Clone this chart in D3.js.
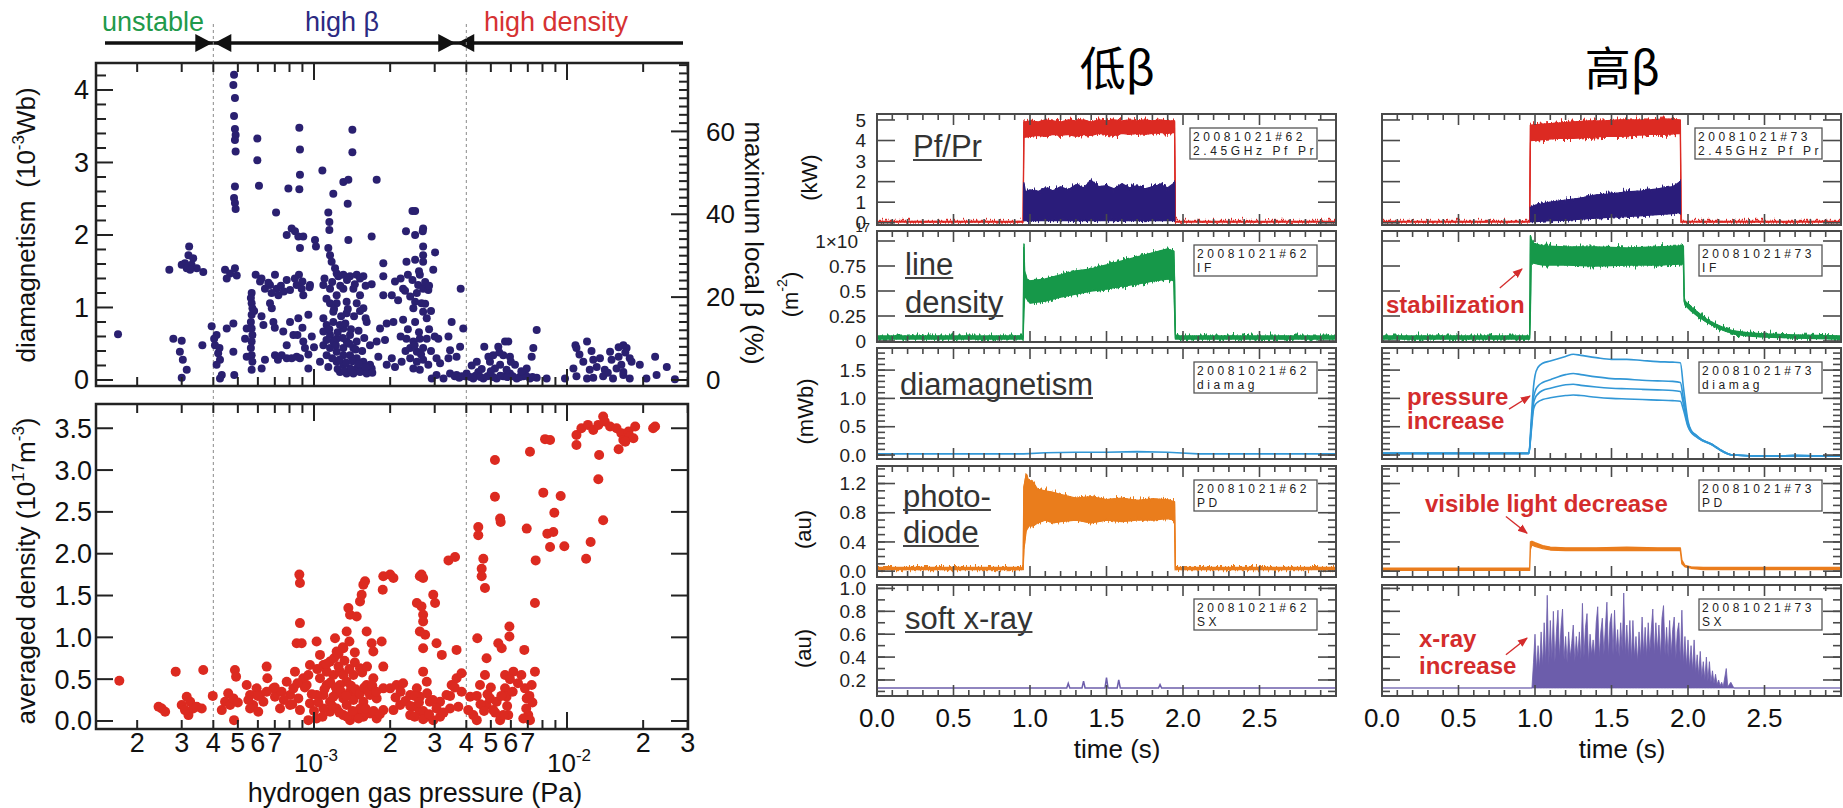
<!DOCTYPE html>
<html>
<head>
<meta charset="utf-8">
<script src="https://cdn.jsdelivr.net/npm/d3@7"></script>
<style>
  body { margin: 0; background: #fff; }
  svg { display: block; }
</style>
</head>
<body>
<script>
(function(){

//---------------- left panels: hydrogen pressure scan ----------------
//pressure in units of 1e-3 Pa, diamagnetism in 1e-3 Wb
var diamPressure = [0.168,0.268,0.278,0.300,0.295,0.303,0.314,0.300,0.321,0.319,
    0.309,0.328,0.344,0.365,0.300,0.333,0.314,0.324,0.362,0.394,
    0.412,0.406,0.418,0.425,0.412,0.432,0.425,0.403,0.423,0.452,
    0.480,0.480,0.484,0.483,0.480,0.487,0.483,0.487,0.490,0.487,
    0.490,0.487,0.483,0.487,0.490,0.445,0.466,0.487,0.452,0.495,
    0.542,0.534,0.542,0.567,0.563,0.567,0.571,0.567,0.563,0.567,
    0.571,0.567,0.563,0.567,0.571,0.567,0.597,0.597,0.606,0.588,
    0.612,0.640,0.670,0.701,0.712,0.723,0.681,0.670,0.631,0.640,
    0.621,0.691,0.701,0.745,0.780,0.816,0.854,0.708,0.792,0.875,
    0.880,0.880,0.875,0.780,0.816,0.841,0.867,0.907,0.880,1.009,
    1.018,0.872,0.854,0.894,0.804,0.964,0.907,0.756,0.804,0.867,
    0.950,0.780,0.829,0.907,0.950,0.921,1.079,1.192,1.306,1.367,
    1.418,1.418,1.359,1.769,1.139,1.150,1.150,1.139,1.157,1.174,
    1.211,1.229,1.367,1.690,1.089,1.157,1.248,1.306,1.388,1.475,
    1.567,1.229,1.306,1.431,1.520,1.157,1.229,1.346,1.475,1.567,
    1.346,1.615,1.089,1.122,1.192,1.089,1.157,1.229,1.306,1.388,
    1.475,1.089,1.157,1.229,1.306,1.388,1.475,1.567,1.665,1.229,
    1.306,1.388,1.475,1.567,1.690,1.122,1.056,1.139,1.665,1.769,
    1.879,1.879,1.879,1.824,1.908,1.796,1.938,1.938,1.690,1.192,
    1.267,1.346,1.431,1.306,1.192,1.267,1.346,1.431,1.520,1.615,
    2.51,2.45,2.31,2.51,2.70,2.69,2.70,3.01,2.32,2.51,
    2.70,2.70,2.96,2.09,2.03,2.25,2.29,2.62,2.58,2.70,
    2.83,2.51,2.66,2.47,2.70,2.06,2.25,2.51,2.79,3.50,
    3.80,3.89,2.32,2.47,2.62,2.79,2.40,2.55,2.70,2.40,
    2.55,2.70,2.47,2.62,2.83,2.03,2.09,2.22,3.10,3.40,
    3.45,3.15,3.40,3.66,3.78,2.92,3.05,3.25,3.45,3.66,
    3.83,4.01,4.26,4.46,4.67,4.96,5.27,5.60,5.95,6.33,
    6.72,7.14,7.59,8.31,9.82,10.9,12.0,12.7,13.9,15.2,
    16.7,17.7,20.6,26.7,4.71,4.40,4.89,4.96,5.11,5.35,
    5.69,5.86,5.60,5.95,5.44,6.23,5.19,5.77,6.93,7.25,
    7.36,7.59,10.8,10.9,12.0,10.6,11.6,12.3,12.7,13.1,
    14.1,14.8,16.0,16.7,17.2,17.7,16.4,15.7,16.7,19.4,
    22.3,22.6,24.8,
    1.10,1.18,1.27,1.35,1.45,1.52,1.60,1.12,1.20,1.28,
    1.36,1.44,1.52,1.60,1.15,1.24,1.33,1.40,1.50,1.58,
    1.12,1.22,1.30,1.38,1.46,1.55,1.18,1.26,1.34,1.42,
    1.50,1.60,1.70,1.24,1.32,1.40,0.62,0.66,0.74,0.78,
    0.84,0.90,0.96,0.68,0.76,0.58,0.62,0.70,0.86,0.90,
    0.98,1.00,0.95,0.88,0.72,2.20,2.35,2.45,2.60,2.75,
    2.85,2.15,2.40,2.55,2.75,2.90,2.20,2.35,2.60,2.85,
    3.00,2.30,2.50,2.65,2.90,3.05,3.60,3.75,3.95,4.15,
    4.35,4.55,4.85,5.10,5.45,5.80,6.10,6.50,6.90,7.30,
    4.20,4.60,5.00,5.40,6.00,6.60,11.2,12.5,13.5,15.0,
    16.0,17.0,18.0,14.5];
var diamFlux = [0.63,1.52,0.57,0.54,0.39,0.28,0.14,0.03,1.84,1.72,
    1.61,1.59,1.54,1.49,1.59,1.68,1.54,1.52,0.48,0.74,
    0.62,0.48,0.37,0.28,0.21,0.07,0.02,0.57,0.44,0.71,
    0.78,0.39,0.07,4.21,4.07,3.89,3.64,3.46,3.38,3.31,
    3.15,2.67,2.51,2.44,2.36,1.52,1.47,1.54,1.40,1.44,
    0.71,0.57,0.32,1.20,1.13,1.06,0.99,0.90,0.80,0.71,
    0.62,0.53,0.44,0.34,0.25,0.14,3.33,3.03,2.68,1.45,
    1.36,1.26,1.31,1.45,1.26,1.17,0.99,1.06,0.76,0.28,
    0.16,0.80,0.34,0.34,0.30,0.30,0.32,2.31,2.64,3.48,
    3.18,2.83,2.63,2.00,2.09,2.05,1.98,1.98,1.82,1.93,
    1.84,1.45,1.31,1.26,1.24,1.31,1.17,0.67,0.80,0.85,
    0.90,0.48,0.62,0.53,0.16,0.44,2.89,2.57,2.73,2.76,
    3.45,3.14,2.43,2.76,2.31,2.18,2.07,1.82,1.72,1.63,
    1.54,1.47,1.93,1.98,1.31,1.26,1.43,1.45,1.43,1.45,
    1.43,1.17,1.26,1.26,1.17,1.06,1.06,1.08,1.06,0.99,
    0.92,0.80,0.85,0.76,0.80,0.67,0.62,0.57,0.71,0.62,
    0.53,0.48,0.44,0.39,0.44,0.34,0.30,0.25,0.21,0.25,
    0.21,0.16,0.16,0.14,0.16,0.34,0.25,0.18,0.48,0.53,
    1.61,1.43,1.17,0.71,0.55,0.32,0.21,0.78,1.32,0.94,
    0.76,0.53,0.44,0.34,0.53,0.11,0.09,0.09,0.11,0.09,
    2.33,2.33,2.05,2.00,2.09,2.05,1.84,1.76,1.63,1.66,
    1.72,1.63,1.52,1.36,1.17,1.26,1.23,1.45,1.31,1.26,
    1.24,1.08,1.06,0.99,0.94,0.80,0.83,0.80,0.85,0.80,
    1.26,0.71,0.57,0.53,0.57,0.57,0.44,0.39,0.44,0.30,
    0.25,0.28,0.16,0.14,0.21,0.30,0.18,0.25,0.57,0.60,
    0.41,0.23,0.30,0.32,0.46,0.02,0.07,0.02,0.09,0.07,
    0.05,0.09,0.02,0.11,0.02,0.07,0.02,0.05,0.09,0.02,
    0.05,0.02,0.03,0.02,0.02,0.05,0.02,0.03,0.05,0.02,
    0.07,0.02,0.02,0.01,0.46,0.25,0.32,0.25,0.34,0.46,
    0.53,0.53,0.34,0.32,0.21,0.21,0.16,0.14,0.16,0.32,
    0.44,0.69,0.48,0.44,0.53,0.16,0.25,0.14,0.28,0.18,
    0.14,0.39,0.32,0.48,0.44,0.30,0.21,0.16,0.11,0.21,
    0.32,0.07,0.18,
    1.40,1.35,1.30,1.38,1.32,1.40,1.30,1.12,0.98,0.88,
    0.98,0.88,0.95,0.85,0.70,0.66,0.78,0.70,0.68,0.58,
    0.55,0.48,0.58,0.50,0.42,0.40,0.30,0.28,0.24,0.26,
    0.22,0.18,0.10,0.15,0.12,0.14,1.40,1.34,1.30,1.38,
    1.40,1.36,1.28,1.20,1.22,0.95,0.88,0.72,0.62,0.72,
    0.60,0.45,0.35,0.30,0.28,1.40,1.45,1.38,1.50,1.35,
    1.30,1.10,1.15,1.20,1.05,0.95,0.60,0.70,0.66,0.70,
    0.60,0.40,0.48,0.35,0.40,0.30,0.05,0.03,0.05,0.04,
    0.06,0.04,0.05,0.04,0.06,0.04,0.05,0.04,0.06,0.04,
    0.20,0.15,0.12,0.38,0.25,0.12,0.35,0.40,0.30,0.28,
    0.45,0.38,0.25,0.10];

//pressure in 1e-3 Pa, averaged density in 1e17 m^-3
var densPressure = [0.170,0.284,0.365,0.250,0.258,0.243,0.300,0.314,0.324,0.319,
    0.333,0.344,0.360,0.309,0.398,0.432,0.445,0.458,0.466,0.480,
    0.487,0.492,0.483,0.542,0.559,0.575,0.593,0.612,0.631,0.650,
    0.654,0.691,0.701,0.559,0.602,0.734,0.780,0.804,0.829,0.841,
    0.867,0.880,0.875,0.880,0.880,0.854,0.894,0.907,0.935,0.964,
    0.950,1.024,1.024,1.056,1.089,1.157,1.211,1.229,1.306,1.346,
    1.367,1.388,1.475,1.520,1.543,1.567,1.591,1.615,1.690,1.716,
    1.851,1.869,1.879,1.879,1.056,1.122,1.192,1.267,1.346,1.431,
    1.520,1.615,1.716,1.089,1.157,1.229,1.306,1.388,1.475,1.567,
    1.665,1.769,1.879,1.157,1.229,1.306,1.388,1.475,1.567,1.665,
    1.769,1.879,1.346,1.431,1.520,1.267,1.192,1.431,1.089,1.306,
    1.122,1.024,0.964,0.804,0.745,2.00,2.06,2.66,2.70,2.62,
    2.55,2.66,2.70,2.70,2.62,2.75,2.70,3.05,3.20,3.66,
    2.96,3.01,3.40,3.61,4.46,4.46,4.67,4.60,4.60,4.74,
    4.42,5.19,5.19,5.44,5.47,4.81,5.35,5.52,5.92,5.92,
    6.78,6.14,7.47,7.47,7.52,6.93,7.14,8.19,8.57,8.06,
    9.44,8.91,8.36,8.83,8.57,9.76,11.9,12.4,13.3,13.4,
    13.9,10.9,10.9,11.4,12.1,12.7,13.3,13.9,14.1,14.8,
    15.7,16.4,16.7,17.5,17.7,18.6,18.3,16.0,17.0,22.3,
    21.9,2.00,2.12,2.25,2.06,2.19,2.40,2.47,2.62,2.79,
    2.96,3.15,2.40,2.55,2.70,2.79,2.62,2.87,3.15,3.34,
    3.50,3.66,3.83,3.45,3.72,3.83,4.14,4.26,4.40,4.53,
    4.74,4.81,4.96,5.11,5.27,5.44,5.69,5.69,5.77,5.86,
    5.60,6.82,6.93,7.03,7.25,6.72,7.14,4.07,
    0.92,0.98,1.04,1.10,1.16,1.22,1.28,1.34,1.40,1.46,
    1.52,1.58,1.64,1.70,1.76,0.95,1.03,1.12,1.20,1.25,
    1.32,1.38,1.45,1.55,1.62,1.00,1.08,1.18,1.26,1.35,
    1.42,1.50,1.60,1.72,1.82,1.30,1.38,1.25,1.45,0.50,
    0.55,0.60,0.65,0.70,0.76,0.82,0.86,2.10,2.20,2.30,
    2.40,2.50,2.60,2.70,2.80,2.95,3.05,3.25,3.45,3.60,
    2.50,2.70,2.85,4.40,4.55,4.70,4.85,5.00,5.20,5.50,
    5.80,6.10,6.40,6.90,7.10,7.30,5.95,6.60];
var densValue = [0.48,0.59,0.61,0.15,0.11,0.17,0.19,0.29,0.23,0.07,
    0.15,0.17,0.15,0.13,0.30,0.13,0.23,0.33,0.19,0.27,
    0.61,0.53,0.01,0.43,0.31,0.19,0.39,0.31,0.23,0.65,
    0.51,0.39,0.29,0.15,0.11,0.15,0.47,0.31,0.39,0.59,
    0.27,0.13,1.75,1.65,1.17,0.93,0.93,0.51,0.43,0.67,
    0.01,0.03,0.95,0.79,0.67,0.71,0.99,0.83,0.87,1.07,
    1.35,1.27,1.25,1.43,1.51,1.63,1.67,1.07,0.93,0.83,
    0.95,1.57,1.73,0.65,0.51,0.43,0.55,0.59,0.47,0.55,
    0.63,0.43,0.51,0.31,0.23,0.33,0.27,0.35,0.31,0.23,
    0.31,0.27,0.39,0.11,0.15,0.07,0.01,0.11,0.05,0.09,
    0.03,0.13,0.19,0.07,0.15,0.43,0.29,0.25,0.15,0.55,
    0.59,0.31,0.21,0.19,0.35,1.75,1.71,1.75,1.71,1.73,
    1.41,1.37,1.27,1.19,1.07,1.03,0.87,0.93,0.79,0.85,
    1.51,1.41,1.92,1.96,2.32,2.22,1.94,1.82,1.73,1.59,
    0.99,3.12,2.68,2.42,2.38,0.75,0.93,0.87,1.13,1.01,
    0.85,0.59,0.59,1.41,1.92,2.30,3.22,3.37,3.36,2.73,
    2.69,2.49,2.24,2.26,2.08,2.09,1.94,2.14,2.89,3.18,
    2.40,3.30,3.42,3.50,3.54,3.48,3.54,3.64,3.58,3.52,
    3.50,3.44,3.36,3.46,3.40,3.52,3.38,3.25,3.34,3.52,
    3.50,0.39,0.43,0.45,0.13,0.19,0.31,0.17,0.11,0.05,
    0.01,0.05,0.07,0.39,0.59,0.47,0.29,0.23,0.23,0.31,
    0.43,0.51,0.57,0.15,0.17,0.35,0.29,0.07,0.01,0.43,
    0.55,0.19,0.27,0.13,0.23,0.01,0.55,0.39,0.29,0.07,
    0.07,0.39,0.27,0.07,0.43,0.03,0.01,0.13,
    0.40,0.32,0.22,0.38,0.46,0.40,0.35,0.30,0.42,0.38,
    0.33,0.40,0.36,0.42,0.35,0.55,0.62,0.68,0.75,0.65,
    0.72,0.62,0.70,0.58,0.65,0.12,0.05,0.18,0.10,0.05,
    0.12,0.03,0.15,0.12,0.08,0.88,0.95,0.80,0.82,0.22,
    0.25,0.30,0.35,0.40,0.25,0.20,0.45,0.28,0.35,0.24,
    0.18,0.30,0.22,0.12,0.33,0.25,0.15,0.10,0.30,0.40,
    0.05,0.02,0.08,0.30,0.20,0.12,0.32,0.40,0.10,0.30,
    0.18,0.35,0.45,0.15,0.30,0.22,0.50,0.55];

var regimeEdges = [4e-4, 4e-3];       //dashed separators (Pa)
var arrowJoins = [4e-4, 3.65e-3];     //where the header arrows meet (Pa)
var regimeNames = ["unstable", "high β", "high density"];

var diamTicks = [0, 1, 2, 3, 4];
var betaTicks = [0, 20, 40, 60];
var densTicks = [0, 0.5, 1.0, 1.5, 2.0, 2.5, 3.0, 3.5];
var pressLabelMantissas = [2, 3, 4, 5, 6, 7];

//---------------- right panels: discharge waveforms ----------------
var shots = ["20081021#62", "20081021#73"];
var channelTags = ["2.45GHz Pf Pr", "IF", "diamag", "PD", "SX"];
var timeTicks = [0, 0.5, 1.0, 1.5, 2.0, 2.5];

//forward power (kW), band min / max
var pfLowT   = [0, 0.955, 0.96, 1.0, 1.05, 1.1, 1.15, 1.2, 1.25, 1.3, 1.35, 1.4, 1.45, 1.5, 1.55, 1.6, 1.65, 1.7, 1.75, 1.8, 1.85, 1.9, 1.945, 1.95, 3.0];
var pfLowMin = [0.03, 0.03, 4.15, 4.2, 4.25, 4.2, 4.3, 4.25, 4.3, 4.2, 4.3, 4.25, 4.35, 4.3, 4.25, 4.35, 4.3, 4.35, 4.3, 4.35, 4.4, 4.35, 4.4, 0.03, 0.03];
var pfLowMax = [0.07, 0.07, 4.9, 4.95, 4.9, 5.0, 4.95, 4.9, 5.0, 4.95, 5.0, 4.9, 5.0, 4.95, 5.0, 4.95, 5.0, 4.95, 5.0, 4.95, 5.0, 4.95, 4.95, 0.07, 0.07];
var pfHighT   = [0, 0.965, 0.97, 1.05, 1.15, 1.25, 1.35, 1.45, 1.55, 1.65, 1.75, 1.85, 1.95, 1.955, 3.0];
var pfHighMin = [0.03, 0.03, 4.0, 4.05, 4.1, 4.1, 4.15, 4.2, 4.2, 4.25, 4.3, 4.3, 4.35, 0.03, 0.03];
var pfHighMax = [0.07, 0.07, 4.75, 4.8, 4.85, 4.9, 4.95, 4.95, 5.0, 5.0, 5.0, 5.05, 5.0, 0.07, 0.07];
//reflected power (kW)
var prLowT   = [0.96, 0.97, 1.0, 1.05, 1.1, 1.15, 1.2, 1.25, 1.3, 1.35, 1.4, 1.45, 1.5, 1.55, 1.6, 1.65, 1.7, 1.75, 1.8, 1.85, 1.9, 1.945];
var prLowMin = [0.1, 0.1, 0.12, 0.1, 0.12, 0.1, 0.12, 0.1, 0.12, 0.1, 0.12, 0.1, 0.12, 0.1, 0.12, 0.1, 0.12, 0.1, 0.12, 0.1, 0.12, 0.1];
var prLowMax = [1.95, 1.5, 1.6, 1.5, 1.7, 1.55, 1.75, 1.6, 1.85, 1.7, 2.05, 1.75, 1.8, 1.65, 1.9, 1.7, 1.8, 1.65, 1.75, 1.85, 1.7, 1.95];
var prHighT   = [0.97, 1.0, 1.1, 1.2, 1.3, 1.4, 1.5, 1.6, 1.7, 1.8, 1.9, 1.95];
var prHighMin = [0.05, 0.05, 0.1, 0.12, 0.18, 0.22, 0.28, 0.3, 0.35, 0.4, 0.45, 0.5];
var prHighMax = [0.75, 0.85, 1.0, 1.1, 1.2, 1.35, 1.4, 1.5, 1.55, 1.65, 1.75, 2.0];

//line density (1e17 m^-2)
var ldLowT   = [0, 0.955, 0.96, 0.965, 0.98, 1.0, 1.1, 1.2, 1.3, 1.4, 1.5, 1.6, 1.7, 1.8, 1.9, 1.94, 1.945, 1.95, 3.0];
var ldLowMin = [0.02, 0.02, 0.3, 0.45, 0.42, 0.38, 0.4, 0.44, 0.47, 0.5, 0.52, 0.55, 0.57, 0.6, 0.62, 0.6, 0.3, 0.02, 0.02];
var ldLowMax = [0.05, 0.05, 0.97, 0.7, 0.62, 0.6, 0.62, 0.66, 0.7, 0.72, 0.76, 0.8, 0.84, 0.88, 0.92, 0.9, 0.6, 0.05, 0.05];
var ldHighT   = [0, 0.965, 0.97, 0.975, 0.99, 1.05, 1.2, 1.4, 1.6, 1.8, 1.95, 1.97, 1.975, 1.98, 2.02, 2.07, 2.12, 2.18, 2.24, 2.3, 2.4, 2.5, 2.7, 3.0];
var ldHighMin = [0.02, 0.02, 0.3, 0.8, 0.78, 0.76, 0.76, 0.75, 0.76, 0.76, 0.77, 0.77, 0.4, 0.36, 0.3, 0.24, 0.19, 0.14, 0.1, 0.07, 0.05, 0.04, 0.03, 0.02];
var ldHighMax = [0.05, 0.05, 1.05, 1.02, 0.98, 0.95, 0.94, 0.94, 0.93, 0.94, 0.95, 0.95, 0.44, 0.4, 0.34, 0.28, 0.22, 0.17, 0.13, 0.1, 0.08, 0.07, 0.06, 0.05];

//diamagnetic flux (mWb)
var dmLowT = [0, 0.96, 1.1, 1.3, 1.5, 1.7, 1.9, 1.96, 2.1, 3.0];
var dmLowV = [0.02, 0.02, 0.04, 0.05, 0.05, 0.06, 0.05, 0.04, 0.02, 0.02];
var dmHighT = [0, 0.96, 0.975, 0.99, 1.0, 1.02, 1.05, 1.1, 1.2, 1.25, 1.3, 1.4, 1.5, 1.6, 1.7, 1.8, 1.9, 1.95, 1.97, 2.0, 2.02, 2.05, 2.09, 2.15, 2.18, 2.22, 2.29, 2.5, 2.7, 3.0];
var dmHigh1 = [0.03, 0.03, 0.6, 1.2, 1.4, 1.55, 1.62, 1.66, 1.74, 1.78, 1.76, 1.72, 1.69, 1.69, 1.67, 1.65, 1.64, 1.63, 1.2, 0.6, 0.44, 0.36, 0.27, 0.2, 0.15, 0.08, 0.0, -0.02, -0.01, -0.02];
var dmHigh2 = [0.03, 0.03, 0.5, 1.0, 1.12, 1.22, 1.28, 1.33, 1.42, 1.44, 1.42, 1.38, 1.35, 1.34, 1.32, 1.31, 1.30, 1.28, 1.0, 0.56, 0.42, 0.35, 0.27, 0.2, 0.15, 0.08, 0.0, -0.02, -0.01, -0.02];
var dmHigh3 = [0.03, 0.03, 0.45, 0.9, 1.0, 1.08, 1.14, 1.18, 1.24, 1.25, 1.23, 1.2, 1.18, 1.17, 1.16, 1.15, 1.14, 1.12, 0.9, 0.52, 0.41, 0.34, 0.26, 0.19, 0.14, 0.07, 0.0, -0.02, -0.01, -0.02];
var dmHigh4 = [0.03, 0.03, 0.4, 0.8, 0.88, 0.94, 0.98, 1.01, 1.05, 1.06, 1.05, 1.02, 1.0, 0.99, 0.98, 0.97, 0.96, 0.95, 0.8, 0.5, 0.4, 0.33, 0.26, 0.19, 0.14, 0.07, 0.0, -0.02, -0.01, -0.02];

//photodiode (au)
var pdLowT   = [0, 0.955, 0.96, 0.975, 0.99, 1.02, 1.05, 1.1, 1.15, 1.2, 1.3, 1.4, 1.5, 1.6, 1.7, 1.8, 1.9, 1.945, 1.95, 3.0];
var pdLowMin = [0.02, 0.02, 0.3, 0.55, 0.62, 0.62, 0.66, 0.7, 0.66, 0.68, 0.7, 0.66, 0.7, 0.68, 0.7, 0.7, 0.72, 0.7, 0.02, 0.02];
var pdLowMax = [0.05, 0.05, 1.15, 1.33, 1.25, 1.22, 1.12, 1.1, 1.08, 1.05, 1.0, 1.02, 0.98, 1.0, 0.97, 0.99, 0.98, 0.95, 0.05, 0.05];
var pdHighT   = [0, 0.965, 0.97, 0.98, 1.0, 1.05, 1.1, 1.2, 1.4, 1.6, 1.8, 1.95, 1.96, 1.98, 2.02, 2.1, 3.0];
var pdHighMin = [0.01, 0.01, 0.3, 0.36, 0.34, 0.31, 0.29, 0.28, 0.28, 0.28, 0.28, 0.28, 0.1, 0.06, 0.04, 0.02, 0.02];
var pdHighMax = [0.04, 0.04, 0.4, 0.41, 0.39, 0.35, 0.33, 0.32, 0.32, 0.33, 0.32, 0.32, 0.15, 0.08, 0.06, 0.05, 0.05];

//soft x-ray (au)
var sxLowT = [0, 1.24, 1.25, 1.26, 1.34, 1.35, 1.36, 1.49, 1.5, 1.51, 1.57, 1.58, 1.59, 1.84, 1.85, 1.86, 3.0];
var sxLowV = [0.13, 0.13, 0.17, 0.13, 0.13, 0.19, 0.13, 0.13, 0.22, 0.13, 0.13, 0.2, 0.13, 0.13, 0.16, 0.13, 0.13];
var sxHighT = [0,0.97,0.98,0.99,1.00,1.01,1.02,1.03,1.04,1.05,1.06,1.07,1.08,1.09,1.10,1.11,1.12,1.13,1.14,1.15,1.16,1.17,1.18,1.19,1.20,
    1.21,1.22,1.23,1.24,1.25,1.26,1.27,1.28,1.29,1.30,1.31,1.32,1.33,1.34,1.35,1.36,1.37,1.38,1.39,1.40,1.41,1.42,1.43,1.44,1.45,
    1.46,1.47,1.48,1.49,1.50,1.51,1.52,1.53,1.54,1.55,1.56,1.57,1.58,1.59,1.60,1.61,1.62,1.63,1.64,1.65,1.66,1.67,1.68,1.69,1.70,
    1.71,1.72,1.73,1.74,1.75,1.76,1.77,1.78,1.79,1.80,1.81,1.82,1.83,1.84,1.85,1.86,1.87,1.88,1.89,1.90,1.91,1.92,1.93,1.94,1.95,
    1.96,1.97,1.98,1.99,2.00,2.01,2.02,2.03,2.04,2.05,2.06,2.07,2.08,2.09,2.10,2.11,2.12,2.13,2.14,2.15,2.16,2.17,2.18,2.19,2.20,
    2.21,2.22,2.23,2.25,2.26,2.28,2.30,3.00];
var sxHighV = [0.13,0.13,0.13,
    0.35,0.60,0.28,0.50,0.30,0.62,0.32,0.70,0.35,0.94,
    0.33,0.72,0.38,0.80,0.36,0.62,0.81,0.40,0.66,0.82,
    0.38,0.58,0.35,0.62,0.40,0.52,0.68,0.36,0.58,0.40,
    0.62,0.38,0.87,0.40,0.66,0.78,0.36,0.60,0.42,0.55,
    0.40,0.70,0.84,0.40,0.62,0.74,0.42,0.66,0.88,0.40,
    0.70,0.78,0.42,0.81,0.44,0.64,0.40,0.70,0.45,0.96,
    0.42,0.68,0.40,0.72,0.38,0.72,0.40,0.58,0.36,0.62,
    0.40,0.75,0.42,0.66,0.40,0.70,0.44,0.64,0.82,0.42,
    0.70,0.45,0.68,0.40,0.74,0.85,0.42,0.66,0.40,0.72,
    0.42,0.64,0.75,0.38,0.62,0.70,0.36,0.81,0.34,0.58,
    0.32,0.55,0.30,0.50,0.28,0.55,0.26,0.42,0.24,0.45,
    0.22,0.36,0.20,0.40,0.19,0.36,0.18,0.28,0.17,0.25,
    0.16,0.20,0.15,0.18,0.14,
    0.30,0.14,0.18,0.13,0.13];

//axis ticks of each waveform row
var rowMajor = [[0,1,2,3,4,5], [0,0.25,0.5,0.75,1], [0,0.5,1,1.5], [0,0.4,0.8,1.2], [0.2,0.4,0.6,0.8,1.0]];
var rowLabels = [["0","1","2","3","4","5"], ["0","0.25","0.5","0.75","1×10"], ["0.0","0.5","1.0","1.5"], ["0.0","0.4","0.8","1.2"], ["0.2","0.4","0.6","0.8","1.0"]];

//==================================================================
var W = 1843, H = 808;
var FONT = "'Liberation Sans', Arial, Helvetica, sans-serif";

var svg = d3.select("body").append("svg")
    .attr("width", W)
    .attr("height", H)
    .style("font-family", FONT);
svg.append("rect").attr("width", W).attr("height", H).attr("fill", "#fff");
var defs = svg.append("defs");

//noise jitter for the dense digitizer bands
var jit = defs.append("filter").attr("id", "jitter")
    .attr("x", "-2%").attr("y", "-30%").attr("width", "104%").attr("height", "160%");
jit.append("feTurbulence").attr("type", "fractalNoise").attr("baseFrequency", "0.6 0.04")
    .attr("numOctaves", 2).attr("seed", 4).attr("result", "noise");
var ct = jit.append("feComponentTransfer").attr("in", "noise").attr("result", "noise2");
ct.append("feFuncR").attr("type", "linear").attr("slope", 0).attr("intercept", 0.5);
jit.append("feDisplacementMap").attr("in", "SourceGraphic").attr("in2", "noise2")
    .attr("scale", 12).attr("xChannelSelector", "R").attr("yChannelSelector", "G");

defs.append("marker").attr("id", "redHead")
    .attr("viewBox", "0 0 10 10").attr("refX", 9).attr("refY", 5)
    .attr("markerWidth", 10).attr("markerHeight", 10)
    .attr("markerUnits", "userSpaceOnUse").attr("orient", "auto")
    .append("path").attr("d", "M0,1 L10,5 L0,9 Z").attr("fill", "#d42c2c");

//---------------- left: scales ----------------
var betaPerFlux = 17.5;   //maximum local beta (%) per 1e-3 Wb
var xP = d3.scaleLog().domain([1.375e-4, 3.008e-2]).range([96, 688]);
var yDiam = d3.scaleLinear().domain([-0.083, 4.372]).range([386, 63]);
var yBeta = d3.scaleLinear().domain([-0.083 * betaPerFlux, 4.372 * betaPerFlux]).range([386, 63]);
var yDens = d3.scaleLinear().domain([-0.096, 3.79]).range([729, 404]);

//header: regimes and arrows
var regimeColors = ["#1f9a4b", "#2c2a82", "#d63232"];
var regimeX = [153, 342, 556];
regimeNames.forEach(function(n, i){
    svg.append("text")
        .attr("x", regimeX[i]).attr("y", 31)
        .attr("text-anchor", "middle")
        .attr("font-size", 27)
        .attr("fill", regimeColors[i])
        .text(n);
});
svg.append("line")
    .attr("x1", 105).attr("x2", 683).attr("y1", 43).attr("y2", 43)
    .attr("stroke", "#111").attr("stroke-width", 3.5);
arrowJoins.forEach(function(p){
    var xm = xP(p);
    svg.append("path")
        .attr("d", "M" + (xm - 1) + ",43 L" + (xm - 18) + ",34 L" + (xm - 18) + ",52 Z")
        .attr("fill", "#111");
    svg.append("path")
        .attr("d", "M" + (xm + 1) + ",43 L" + (xm + 18) + ",34 L" + (xm + 18) + ",52 Z")
        .attr("fill", "#111");
});

//dashed regime separators
regimeEdges.forEach(function(p){
    svg.append("line")
        .attr("x1", xP(p)).attr("x2", xP(p))
        .attr("y1", 24).attr("y2", 729)
        .attr("stroke", "#8a8a8a").attr("stroke-width", 1)
        .attr("stroke-dasharray", "3,3");
});

//scatter dots
var diamPts = diamPressure.map(function(p, i){ return [p * 1e-3, diamFlux[i]]; });
svg.append("g").selectAll("circle")
    .data(diamPts)
    .enter()
    .append("circle")
    .attr("cx", function(d){ return xP(d[0]); })
    .attr("cy", function(d){ return yDiam(d[1]); })
    .attr("r", 4)
    .attr("fill", "#2a2070");

var densPts = densPressure.map(function(p, i){ return [p * 1e-3, densValue[i]]; });
svg.append("g").selectAll("circle")
    .data(densPts)
    .enter()
    .append("circle")
    .attr("cx", function(d){ return xP(d[0]); })
    .attr("cy", function(d){ return yDens(d[1]); })
    .attr("r", 5)
    .attr("fill", "#dc2a20");

//frames and ticks
function logFrame(y0, y1){
    var g = svg.append("g").attr("stroke", "#222").attr("stroke-width", 2);
    g.append("rect")
        .attr("x", 96).attr("y", y0).attr("width", 592).attr("height", y1 - y0)
        .attr("fill", "none").attr("stroke-width", 2.5);
    xP.ticks().forEach(function(v){
        var lg = Math.log10(v),
            major = Math.abs(lg - Math.round(lg)) < 1e-6,
            len = major ? 17 : 9,
            xx = xP(v);
        g.append("line").attr("x1", xx).attr("x2", xx).attr("y1", y0).attr("y2", y0 + len);
        g.append("line").attr("x1", xx).attr("x2", xx).attr("y1", y1).attr("y2", y1 - len);
    });
    return g;
}
function yTick(g, side, y, len){
    var x0 = side === "left" ? 96 : 688,
        dir = side === "left" ? 1 : -1;
    g.append("line").attr("x1", x0).attr("x2", x0 + dir * len).attr("y1", y).attr("y2", y);
}

var gTop = logFrame(63, 386);
d3.range(0, 4.35, 0.2).forEach(function(v){
    var major = Math.abs(v - Math.round(v)) < 1e-6;
    yTick(gTop, "left", yDiam(v), major ? 17 : 10);
});
d3.range(0, 77, 2).forEach(function(v){
    yTick(gTop, "right", yBeta(v), v % 20 === 0 ? 17 : 9);
});

var gBot = logFrame(404, 729);
densTicks.forEach(function(v){
    yTick(gBot, "left", yDens(v), 17);
    yTick(gBot, "right", yDens(v), 17);
});

//tick labels
diamTicks.forEach(function(v){
    svg.append("text").attr("x", 89).attr("y", yDiam(v)).attr("dy", "0.35em")
        .attr("text-anchor", "end").attr("font-size", 27).attr("fill", "#111").text(v);
});
betaTicks.forEach(function(v){
    svg.append("text").attr("x", 706).attr("y", yBeta(v)).attr("dy", "0.35em")
        .attr("font-size", 26).attr("fill", "#111").text(v);
});
densTicks.forEach(function(v){
    svg.append("text").attr("x", 92).attr("y", yDens(v)).attr("dy", "0.35em")
        .attr("text-anchor", "end").attr("font-size", 27).attr("fill", "#111").text(v.toFixed(1));
});
xP.ticks().forEach(function(v){
    var e = Math.floor(Math.log10(v) + 1e-9),
        m = Math.round(v / Math.pow(10, e));
    if (pressLabelMantissas.indexOf(m) >= 0){
        svg.append("text").attr("x", xP(v)).attr("y", 752)
            .attr("text-anchor", "middle").attr("font-size", 27).attr("fill", "#111").text(m);
    } else if (m === 1){
        var t = svg.append("text").attr("x", xP(v) + 2).attr("y", 772)
            .attr("text-anchor", "middle").attr("font-size", 26).attr("fill", "#111");
        t.append("tspan").text("10");
        t.append("tspan").attr("dy", -11).attr("font-size", 17).text(String(e));
    }
});

//axis titles
function rotLabel(x, y, angle, parts, size){
    var t = svg.append("text")
        .attr("x", x).attr("y", y)
        .attr("transform", "rotate(" + angle + "," + x + "," + y + ")")
        .attr("text-anchor", "middle")
        .attr("font-size", size)
        .attr("fill", "#111");
    var shift = 0;
    parts.forEach(function(p){
        var sp = t.append("tspan").text(p[0]);
        if (p[1]){
            sp.attr("font-size", size * 0.65).attr("dy", -11 - shift);
            shift = -11;
        } else if (shift !== 0){
            sp.attr("dy", -shift);
            shift = 0;
        }
    });
    return t;
}
rotLabel(35, 225, -90, [["diamagnetism\u2002(10"], ["-3", true], ["Wb)"]], 26);
rotLabel(35, 571, -90, [["averaged density (10"], ["17", true], ["m"], ["-3", true], [")"]], 26);
rotLabel(745, 243, 90, [["maximum local β (%)"]], 26);
svg.append("text").attr("x", 415).attr("y", 802)
    .attr("text-anchor", "middle").attr("font-size", 27).attr("fill", "#111")
    .text("hydrogen gas pressure (Pa)");

//---------------- right: waveform panels ----------------
var rowTops = [114, 231, 348, 466, 585], rowH = 111;
var colLefts = [877, 1382], colW = 459;
var rowDomains = [[-0.11, 5.29], [-0.01, 1.10], [-0.07, 1.89], [-0.08, 1.44], [0.06, 1.03]];
var yRow = rowDomains.map(function(dm, r){
    return d3.scaleLinear().domain(dm).range([rowTops[r] + rowH, rowTops[r]]);
});
var tCol = colLefts.map(function(x0){
    return d3.scaleLinear().domain([0, 3]).range([x0, x0 + colW]);
});

function panelGroup(c, r){
    var id = "clip" + c + r;
    defs.append("clipPath").attr("id", id)
        .append("rect")
        .attr("x", colLefts[c]).attr("y", rowTops[r])
        .attr("width", colW).attr("height", rowH);
    return svg.append("g").attr("clip-path", "url(#" + id + ")");
}
var panels = [0, 1].map(function(c){
    return rowTops.map(function(t, r){ return panelGroup(c, r); });
});

function band(c, r, T, lo, hi, color, noisy){
    var pts = T.map(function(t, i){ return [t, lo[i], hi[i]]; });
    var area = d3.area()
        .x(function(d){ return tCol[c](d[0]); })
        .y0(function(d){ return yRow[r](d[1]); })
        .y1(function(d){ return yRow[r](d[2]); });
    panels[c][r].append("path")
        .datum(pts)
        .attr("d", area)
        .attr("fill", color)
        .attr("stroke", color)
        .attr("stroke-width", 1.3)
        .attr("stroke-linejoin", "round");
    if (noisy){
        panels[c][r].append("path")
            .datum(pts)
            .attr("d", area)
            .attr("fill", color)
            .attr("stroke", color)
            .attr("stroke-width", 1)
            .attr("filter", "url(#jitter)");
    }
}
function trace(c, r, T, V, color, width, curve){
    var line = d3.line()
        .x(function(d, i){ return tCol[c](T[i]); })
        .y(function(d){ return yRow[r](d); });
    if (curve) line.curve(curve);
    panels[c][r].append("path")
        .datum(V)
        .attr("d", line)
        .attr("fill", "none")
        .attr("stroke", color)
        .attr("stroke-width", width);
}

var RED = "#dc2a24", NAVY = "#2b1d7a", GREEN = "#17984a", BLUE = "#3197d6", ORANGE = "#ea7d1d", PURPLE = "#6c5dab";

band(0, 0, pfLowT, pfLowMin, pfLowMax, RED, true);
band(0, 0, prLowT, prLowMin, prLowMax, NAVY, true);
band(1, 0, pfHighT, pfHighMin, pfHighMax, RED, true);
band(1, 0, prHighT, prHighMin, prHighMax, NAVY, true);

band(0, 1, ldLowT, ldLowMin, ldLowMax, GREEN, true);
band(1, 1, ldHighT, ldHighMin, ldHighMax, GREEN, true);

trace(0, 2, dmLowT, dmLowV, BLUE, 1.6);
[dmHigh1, dmHigh2, dmHigh3, dmHigh4].forEach(function(v){
    trace(1, 2, dmHighT, v, BLUE, 1.6, d3.curveMonotoneX);
});

band(0, 3, pdLowT, pdLowMin, pdLowMax, ORANGE, true);
band(1, 3, pdHighT, pdHighMin, pdHighMax, ORANGE, false);

trace(0, 4, sxLowT, sxLowV, PURPLE, 1.5);
(function(){
    var area = d3.area()
        .x(function(d, i){ return tCol[1](sxHighT[i]); })
        .y0(yRow[4](0.13))
        .y1(function(d){ return yRow[4](d); });
    panels[1][4].append("path")
        .datum(sxHighV)
        .attr("d", area)
        .attr("fill", PURPLE)
        .attr("stroke", PURPLE)
        .attr("stroke-width", 0.8);
})();

//frames, ticks, info boxes
[0, 1].forEach(function(c){
    var x0 = colLefts[c], x1 = x0 + colW;
    rowTops.forEach(function(top, r){
        var bot = top + rowH,
            y = yRow[r],
            g = svg.append("g").attr("stroke", "#4a4a4a").attr("stroke-width", 1.6);
        g.append("rect")
            .attr("x", x0).attr("y", top).attr("width", colW).attr("height", rowH)
            .attr("fill", "none").attr("stroke-width", 2);
        //time ticks
        d3.range(0, 31).forEach(function(k){
            var tx = tCol[c](k / 10),
                len = k % 5 === 0 ? 11 : 6;
            g.append("line").attr("x1", tx).attr("x2", tx).attr("y1", top).attr("y2", top + len);
            g.append("line").attr("x1", tx).attr("x2", tx).attr("y1", bot).attr("y2", bot - len);
        });
        //value ticks
        var dm = y.domain();
        if (r >= 2){
            d3.range(Math.ceil(dm[0] * 10), Math.floor(dm[1] * 10) + 1).forEach(function(k){
                var yy = y(k / 10);
                g.append("line").attr("x1", x0).attr("x2", x0 + 8).attr("y1", yy).attr("y2", yy);
                g.append("line").attr("x1", x1).attr("x2", x1 - 8).attr("y1", yy).attr("y2", yy);
            });
        }
        rowMajor[r].forEach(function(v){
            var yy = y(v);
            g.append("line").attr("x1", x0).attr("x2", x0 + 18).attr("y1", yy).attr("y2", yy);
            g.append("line").attr("x1", x1).attr("x2", x1 - 18).attr("y1", yy).attr("y2", yy);
        });
        //shot / channel box
        var bw = r === 0 ? 127 : 123,
            bx = x1 - bw - 19,
            by = top + 14;
        svg.append("rect")
            .attr("x", bx).attr("y", by).attr("width", bw).attr("height", 31)
            .attr("fill", "#fff").attr("stroke", "#555").attr("stroke-width", 1.3);
        svg.append("text").attr("x", bx + 3).attr("y", by + 13)
            .attr("font-size", 12).attr("letter-spacing", 3.6).attr("fill", "#222")
            .text(shots[c]);
        svg.append("text").attr("x", bx + 3).attr("y", by + 27)
            .attr("font-size", 12).attr("letter-spacing", 3.6).attr("fill", "#222")
            .text(channelTags[r]);
    });
    //time axis labels
    timeTicks.forEach(function(v){
        svg.append("text").attr("x", tCol[c](v)).attr("y", 727)
            .attr("text-anchor", "middle").attr("font-size", 26).attr("fill", "#111")
            .text(v.toFixed(1));
    });
    svg.append("text").attr("x", tCol[c](1.57)).attr("y", 758)
        .attr("text-anchor", "middle").attr("font-size", 26).attr("fill", "#111")
        .text("time (s)");
});

//low-beta value labels
rowLabels.forEach(function(labels, r){
    labels.forEach(function(s, i){
        svg.append("text")
            .attr("x", r === 1 && i === 4 ? 858 : 866)
            .attr("y", yRow[r](rowMajor[r][i]))
            .attr("dy", "0.35em")
            .attr("text-anchor", "end")
            .attr("font-size", 19)
            .attr("fill", "#222")
            .text(s);
    });
});
svg.append("text").attr("x", 870).attr("y", yRow[1](1) - 9)
    .attr("text-anchor", "end").attr("font-size", 13).attr("fill", "#222").text("17");

//units
var unitX = [817, 798, 813, 811, 811];
var unitParts = [[["(kW)"]], [["(m"], ["-2", true], [")"]], [["(mWb)"]], [["(au)"]], [["(au)"]]];
unitParts.forEach(function(parts, r){
    var cy = rowTops[r] + rowH / 2;
    rotLabel(unitX[r], cy + 8, -90, parts, 22);
});

//panel names (low beta column)
var names = [["Pf/Pr"], ["line", "density"], ["diamagnetism"], ["photo-", "diode"], ["soft x-ray"]];
var nameDx = [36, 28, 23, 26, 28];
var nameDy = [[43], [44, 82], [47], [41, 77], [44]];
names.forEach(function(lines, r){
    lines.forEach(function(s, k){
        var tx = colLefts[0] + nameDx[r],
            ty = rowTops[r] + nameDy[r][k];
        var t = svg.append("text").attr("x", tx).attr("y", ty)
            .attr("font-size", 31).attr("fill", "#333").text(s);
        var w = t.node().getComputedTextLength();
        svg.append("line").attr("x1", tx).attr("x2", tx + w)
            .attr("y1", ty + 3).attr("y2", ty + 3)
            .attr("stroke", "#444").attr("stroke-width", 1.8);
    });
});

//column titles
["低β", "高β"].forEach(function(s, c){
    svg.append("text").attr("x", tCol[c](1.57)).attr("y", 85)
        .attr("text-anchor", "middle")
        .attr("font-family", "'Noto Sans CJK SC', 'Noto Sans CJK JP', sans-serif")
        .attr("font-size", 46).attr("fill", "#000")
        .text(s);
});

//red annotations on the high-beta column
function note(lines, x, ys){
    lines.forEach(function(s, k){
        svg.append("text").attr("x", x).attr("y", ys[k])
            .attr("font-size", 24).attr("font-weight", "bold").attr("fill", "#d42c2c")
            .text(s);
    });
}
function redArrow(r, t0, v0, t1, v1){
    svg.append("line")
        .attr("x1", tCol[1](t0)).attr("y1", yRow[r](v0))
        .attr("x2", tCol[1](t1)).attr("y2", yRow[r](v1))
        .attr("stroke", "#d42c2c").attr("stroke-width", 1.3)
        .attr("marker-end", "url(#redHead)");
}
var hx = colLefts[1];
note(["stabilization"], hx + 4, [rowTops[1] + 82]);
redArrow(1, 0.77, 0.53, 0.915, 0.72);
note(["pressure", "increase"], hx + 25, [rowTops[2] + 57, rowTops[2] + 81]);
redArrow(2, 0.83, 0.81, 0.967, 1.04);
note(["visible light decrease"], hx + 43, [rowTops[3] + 46]);
redArrow(3, 0.81, 0.75, 0.948, 0.52);
note(["x-ray", "increase"], hx + 37, [rowTops[4] + 62, rowTops[4] + 89]);
redArrow(4, 0.81, 0.42, 0.948, 0.566);

})();
</script>
</body>
</html>
